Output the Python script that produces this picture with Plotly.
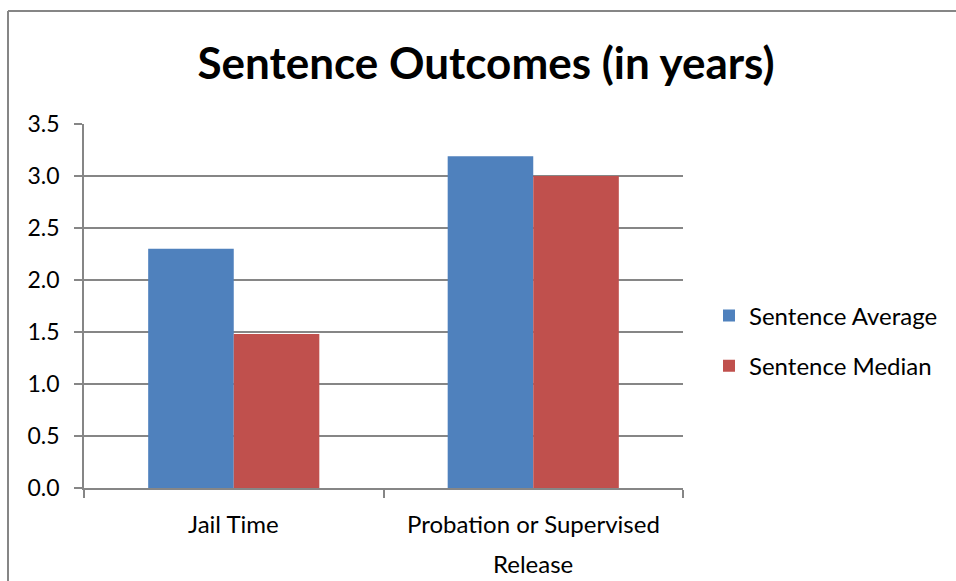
import plotly.graph_objects as go

categories = ["Jail Time", "Probation or Supervised Release"]
category_lines = [["Jail Time"], ["Probation or Supervised", "Release"]]
avg_values = [2.30, 3.19]
median_values = [1.48, 3.00]
series_names = ["Sentence Average", "Sentence Median"]
y_ticks = [0.0, 0.5, 1.0, 1.5, 2.0, 2.5, 3.0, 3.5]
y_tick_labels = [f"{v:.1f}" for v in y_ticks]

FONT = "Lato"
GRAY = "#868686"

fig = go.Figure()
fig.add_trace(go.Bar(x=categories, y=avg_values, name=series_names[0],
                     marker=dict(color="#4F81BD", line=dict(width=0)),
                     legendgroup="a"))
fig.add_trace(go.Bar(x=categories, y=median_values, name=series_names[1],
                     marker=dict(color="#C0504D", line=dict(width=0)),
                     legendgroup="b"))

# plot area: x 84..683, y 124..488
W, H = 956, 581
L, R, T, B = 84, 683, 124, 488
pw, ph = R - L, B - T
bx = (8 - L) / pw
by = (B - 11) / ph

fig.update_layout(
    width=W, height=H,
    margin=dict(l=L, r=W - R, t=T, b=H - B, pad=0),
    paper_bgcolor="white", plot_bgcolor="white",
    barmode="group", bargap=1.5 / 3.5, bargroupgap=0,
    font=dict(family=FONT, color="black"),
    title=dict(text="<b>Sentence Outcomes (in years)</b>",
               font=dict(family=FONT, size=44, color="black"),
               x=486 / W, xanchor="center", y=1 - 64 / H, yanchor="middle"),
    xaxis=dict(showline=True, linecolor=GRAY, linewidth=1.5,
               ticks="outside", tickcolor=GRAY, ticklen=8, tickwidth=1.5,
               tickson="boundaries", showgrid=False, showticklabels=False),
    yaxis=dict(range=[0, 3.5], tickvals=y_ticks, ticktext=y_tick_labels,
               showline=True, linecolor=GRAY, linewidth=1.5,
               ticks="outside", tickcolor=GRAY, ticklen=8, tickwidth=1.5,
               showgrid=True, gridcolor=GRAY, gridwidth=1.5,
               zeroline=False, ticklabelstandoff=10,
               tickfont=dict(family=FONT, size=23, color="black")),
    legend=dict(x=(709 - L) / pw, xanchor="left",
                y=(B - 341) / ph, yanchor="middle",
                font=dict(family=FONT, size=24, color="black"),
                tracegroupgap=16, bgcolor="rgba(0,0,0,0)",
                itemwidth=30),
    showlegend=True,
)

# category labels (Excel-style wrapped lines, 40px line spacing)
for cat, lines in zip(categories, category_lines):
    for i, line in enumerate(lines):
        fig.add_annotation(x=cat, xref="x", y=0, yref="paper",
                           text=line, showarrow=False,
                           yanchor="middle", yshift=-(35 + 40 * i),
                           font=dict(family=FONT, size=24, color="black"))

fig.add_shape(type="line", xref="paper", yref="paper",
              x0=bx, y0=by, x1=bx, y1=-2, line=dict(color=GRAY, width=2))
fig.add_shape(type="line", xref="paper", yref="paper",
              x0=bx, y0=by, x1=2, y1=by, line=dict(color=GRAY, width=2))

fig.write_html("out.html")
